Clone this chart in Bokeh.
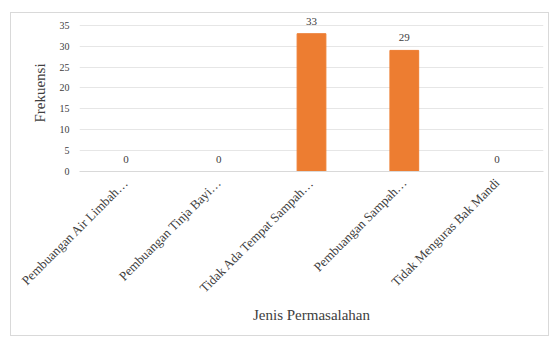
import math
from bokeh.plotting import figure
from bokeh.models import ColumnDataSource, LabelSet, FixedTicker
from bokeh.embed import file_html
from bokeh.resources import INLINE

categories = ["Pembuangan Air Limbah…", "Pembuangan Tinja Bayi…", "Tidak Ada Tempat Sampah…",
              "Pembuangan Sampah…", "Tidak Menguras Bak Mandi"]
values = [0, 0, 33, 29, 0]
y_ticks = [0, 5, 10, 15, 20, 25, 30, 35]

FONT = "Liberation Serif"
TXT = "#404040"

src = ColumnDataSource(dict(cat=categories, val=values, lab=[str(v) for v in values]))

p = figure(x_range=categories, y_range=(0, 37.6), width=539, height=324,
           output_backend="svg", toolbar_location=None,
           min_border_left=68, min_border_right=7, min_border_top=1, min_border_bottom=166)
p.styles = {"margin-left": "10px", "margin-top": "12px", "border": "1px solid #d9d9d9"}

p.vbar(x="cat", top="val", width=0.31, source=src, color="#ED7D31")

labels = LabelSet(x="cat", y="val", text="lab", source=src, text_align="center",
                  text_baseline="bottom", y_offset=9, text_font=FONT, text_font_size="11px",
                  text_color=TXT)
p.add_layout(labels)

p.outline_line_color = None
p.xgrid.grid_line_color = None
p.ygrid.grid_line_color = "#e6e6e6"
p.yaxis.ticker = FixedTicker(ticks=y_ticks)
p.yaxis.axis_line_color = None
p.yaxis.major_tick_line_color = None
p.yaxis.minor_tick_line_color = None
p.yaxis.major_label_text_font = FONT
p.yaxis.major_label_text_font_size = "10px"
p.yaxis.major_label_text_color = TXT
p.yaxis.major_label_standoff = 4
p.yaxis.axis_label = "Frekuensi"
p.yaxis.axis_label_text_font = FONT
p.yaxis.axis_label_text_font_size = "15px"
p.yaxis.axis_label_text_font_style = "normal"
p.yaxis.axis_label_text_color = TXT
p.yaxis.axis_label_standoff = 9

p.xaxis.axis_line_color = "#d9d9d9"
p.xaxis.major_tick_line_color = None
p.xaxis.minor_tick_line_color = None
p.xaxis.major_label_orientation = math.pi / 4
p.xaxis.major_label_text_font = FONT
p.xaxis.major_label_text_font_size = "13px"
p.xaxis.major_label_text_color = TXT
p.xaxis.major_label_standoff = 3
p.xaxis.axis_label = "Jenis Permasalahan"
p.xaxis.axis_label_text_font = FONT
p.xaxis.axis_label_text_font_size = "15px"
p.xaxis.axis_label_text_font_style = "normal"
p.xaxis.axis_label_text_color = TXT
p.xaxis.axis_label_standoff = 3

open("out.html", "w").write(file_html(p, INLINE))
